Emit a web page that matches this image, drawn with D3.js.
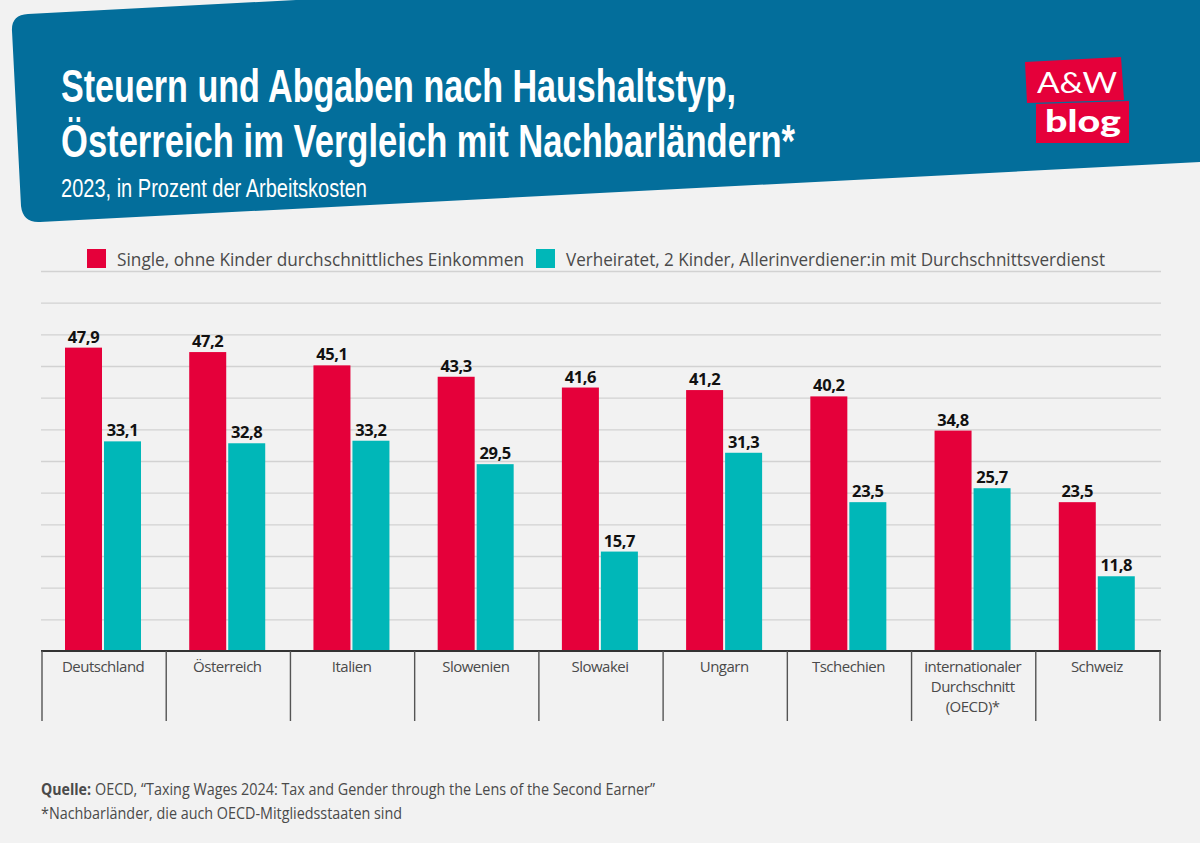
<!DOCTYPE html>
<html lang="de">
<head>
  <meta charset="UTF-8">
  <title>Steuern und Abgaben nach Haushaltstyp</title>
  <script src="https://d3js.org/d3.v7.min.js"></script>
  <style>
    html, body { margin: 0; background: #f2f2f2; }
    svg { display: block; }
    text { font-family: "Open Sans", "Noto Sans", sans-serif; fill: #4a4a4a; }
    .title { font-family: "Liberation Sans Narrow", "Liberation Sans", sans-serif; font-weight: 700; font-size: 47px; fill: #fff; }
    .subtitle { font-family: "Liberation Sans Narrow", "Liberation Sans", sans-serif; font-size: 25px; fill: #fff; }
    .grid line { stroke: #d2d2d2; stroke-width: 1.3px; }
    .grid path { display: none; }
    .cat-label { font-size: 15px; letter-spacing: -0.5px; }
    .value { font-size: 16.5px; font-weight: 700; fill: #111; letter-spacing: -0.4px; }
    .legend { font-size: 18px; }
    .note { font-size: 16px; }
  </style>
</head>
<body>
  <svg id="chart" width="1200" height="843"></svg>

  <script>
    const categories = [
      ["Deutschland"],
      ["Österreich"],
      ["Italien"],
      ["Slowenien"],
      ["Slowakei"],
      ["Ungarn"],
      ["Tschechien"],
      ["internationaler", "Durchschnitt", "(OECD)*"],
      ["Schweiz"]
    ];
    const single = [47.9, 47.2, 45.1, 43.3, 41.6, 41.2, 40.2, 34.8, 23.5];
    const married = [33.1, 32.8, 33.2, 29.5, 15.7, 31.3, 23.5, 25.7, 11.8];
    const gridValues = [5, 10, 15, 20, 25, 30, 35, 40, 45, 50, 55, 60];
    const seriesNames = [
      "Single, ohne Kinder durchschnittliches Einkommen",
      "Verheiratet, 2 Kinder, Allerinverdiener:in mit Durchschnittsverdienst"
    ];

    const red = "#e5003a";
    const teal = "#00b7b8";
    const plotLeft = 41, plotRight = 1161, baseline = 651, plotTop = 271;

    const svg = d3.select("#chart");

    // header band
    svg.append("path")
      .attr("fill", "#036e9b")
      .attr("d", "M12 31 Q11 15 28 14 L296 0 L1200 0 L1200 162 L40 222 Q23 223 21 206 Z");

    const fit = (sel, w) => sel.attr("textLength", w).attr("lengthAdjust", "spacingAndGlyphs");

    svg.append("text").attr("class", "title").attr("x", 61).attr("y", 102)
      .text("Steuern und Abgaben nach Haushaltstyp,").call(fit, 675);
    svg.append("text").attr("class", "title").attr("x", 61).attr("y", 157)
      .text("Österreich im Vergleich mit Nachbarländern*").call(fit, 734);
    svg.append("text").attr("class", "subtitle").attr("x", 61).attr("y", 197)
      .text("2023, in Prozent der Arbeitskosten").call(fit, 306);

    // logo
    svg.append("path").attr("fill", red).attr("d", "M1025 62 L1121 57 L1124 100 L1027 103 Z");
    svg.append("path").attr("fill", red).attr("d", "M1036 104 L1129 101 L1129 143 L1036 143 Z");
    svg.append("text").attr("x", 1077).attr("y", 93).attr("text-anchor", "middle")
      .style("fill", "#fff").style("font-family", "Lato").style("font-size", "29px").style("font-weight", 400)
      .text("A&W").call(fit, 80);
    svg.append("text").attr("x", 1083).attr("y", 132).attr("text-anchor", "middle")
      .style("fill", "#fff").style("font-family", "Lato").style("font-size", "30px").style("font-weight", 900)
      .text("blog").call(fit, 76);

    // legend
    const legend = svg.append("g").attr("class", "legend");
    [[87, 117, 407, red], [536, 566, 539, teal]].forEach((d, i) => {
      legend.append("rect").attr("x", d[0]).attr("y", 249).attr("width", 19).attr("height", 19).attr("fill", d[3]);
      legend.append("text").attr("x", d[1]).attr("y", 266).text(seriesNames[i]).call(fit, d[2]);
    });

    // scales
    const x = d3.scaleBand().domain(d3.range(categories.length)).range([42, 1160]);
    const y = d3.scaleLinear().domain([0, 60]).range([baseline, plotTop]);
    const barW = 37, barGap = 2;
    const groupLeft = i => x(i) + 23;

    svg.append("g").attr("class", "grid")
      .attr("transform", `translate(${plotLeft},0)`)
      .call(d3.axisLeft(y).tickValues(gridValues).tickSize(-(plotRight - plotLeft)).tickFormat(""));

    const drawBars = (vals, color, dx) => {
      svg.append("g").selectAll("rect").data(vals).join("rect")
        .attr("x", (d, i) => groupLeft(i) + dx)
        .attr("y", d => y(d))
        .attr("width", barW)
        .attr("height", d => baseline - y(d))
        .attr("fill", color);
      svg.append("g").selectAll("text").data(vals).join("text")
        .attr("class", "value")
        .attr("x", (d, i) => groupLeft(i) + dx + barW / 2)
        .attr("y", d => y(d) - 5)
        .attr("text-anchor", "middle")
        .text(d => d.toFixed(1).replace(".", ","));
    };
    drawBars(single, red, 0);
    drawBars(married, teal, barW + barGap);

    // baseline and category separators
    svg.append("line").attr("x1", plotLeft).attr("x2", plotRight).attr("y1", y(0)).attr("y2", y(0))
      .attr("stroke", "#333").attr("stroke-width", 2);
    const edges = d3.range(categories.length).map(i => x(i)).concat(x.range()[1]);
    svg.append("g").selectAll("line").data(edges).join("line")
      .attr("x1", d => d).attr("x2", d => d).attr("y1", baseline).attr("y2", 721)
      .attr("stroke", "#555").attr("stroke-width", 1.4);

    categories.forEach((lines, i) => {
      lines.forEach((s, j) => {
        svg.append("text").attr("class", "cat-label")
          .attr("x", x(i) + x.bandwidth() / 2 - 1).attr("y", 671.5 + j * 20)
          .attr("text-anchor", "middle").text(s);
      });
    });

    // footer
    svg.append("text").attr("class", "note").attr("x", 41).attr("y", 795)
      .style("font-weight", 700).text("Quelle:").call(fit, 50);
    svg.append("text").attr("class", "note").attr("x", 95).attr("y", 795)
      .text("OECD, “Taxing Wages 2024: Tax and Gender through the Lens of the Second Earner”").call(fit, 560);
    svg.append("text").attr("class", "note").attr("x", 41).attr("y", 819)
      .text("*Nachbarländer, die auch OECD-Mitgliedsstaaten sind").call(fit, 361);
  </script>
</body>
</html>
